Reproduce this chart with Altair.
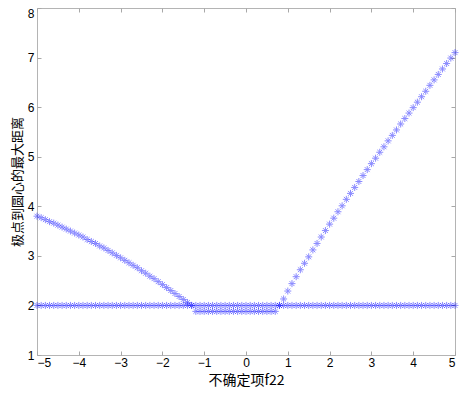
import altair as alt
import pandas as pd

# x grid of the sampled uncertain term f22
x_vals = [round(-5 + 0.1 * i, 1) for i in range(101)]

# series 1: flat at 2
series_flat = [2.0] * 101

# series 2
series_v = [
    3.80, 3.77, 3.73, 3.69, 3.66, 3.62, 3.58, 3.54, 3.50, 3.46,
    3.42, 3.38, 3.33, 3.29, 3.25, 3.20, 3.16, 3.11, 3.06, 3.01,
    2.96, 2.91, 2.86, 2.81, 2.76, 2.70, 2.65, 2.59, 2.54, 2.48,
    2.42, 2.36, 2.30, 2.24, 2.18, 2.12, 2.06, 2.00,
    1.88, 1.88, 1.88, 1.88, 1.88, 1.88, 1.88, 1.88, 1.88, 1.88,
    1.88, 1.88, 1.88, 1.88, 1.88, 1.88, 1.88, 1.88, 1.88, 1.88,
    2.00, 2.13, 2.29, 2.44, 2.58, 2.72, 2.85, 2.98, 3.12, 3.25,
    3.38, 3.51, 3.64, 3.76, 3.89, 4.01, 4.14, 4.26, 4.38, 4.50,
    4.62, 4.74, 4.86, 4.97, 5.09, 5.20, 5.32, 5.43, 5.54, 5.66,
    5.77, 5.88, 5.99, 6.10, 6.21, 6.32, 6.44, 6.55, 6.66, 6.77,
    6.88, 6.99, 7.10,
]

x_ticks = [-5, -4, -3, -2, -1, 0, 1, 2, 3, 4, 5]
y_ticks = [1, 2, 3, 4, 5, 6, 7, 8]

x_title = "不确定项f22"
y_title = "极点到圆心的最大距离"

df = pd.DataFrame({
    "x": x_vals + x_vals,
    "y": series_flat + series_v,
    "s": ["flat"] * len(x_vals) + ["v"] * len(x_vals),
})

asterisk = "M-1,0L1,0M0,-1L0,1M-0.7,-0.7L0.7,0.7M-0.7,0.7L0.7,-0.7"

xscale = alt.Scale(domain=[-5, 5], nice=False, zero=False)
yscale = alt.Scale(domain=[1, 8], nice=False, zero=False)

tick_col = "#a8a8a8"

base = alt.Chart(df)

pts = base.mark_point(
    shape=asterisk, size=49, filled=False, color="#0000ff",
    strokeWidth=1, opacity=0.45,
).encode(
    x=alt.X("x:Q", scale=xscale, axis=alt.Axis(
        values=x_ticks, title=x_title, grid=False, domain=False,
        tickColor=tick_col, tickSize=4, offset=-4, labelPadding=2,
        titlePadding=5, format="d",
    )),
    y=alt.Y("y:Q", scale=yscale, axis=alt.Axis(
        values=y_ticks, title=y_title, grid=False, domain=False,
        tickColor=tick_col, tickSize=4, offset=-4, labelPadding=3,
        titlePadding=3, titleFontSize=13, format="d",
        labelBaseline={"condition": {"test": "datum.value == 8", "value": "top"}, "value": "middle"},
    )),
    detail="s:N",
)

mirror = base.mark_point(opacity=0).encode(
    x=alt.X("x:Q", scale=xscale, axis=alt.Axis(
        orient="top", values=x_ticks, title="", labels=False, grid=False,
        domain=False, tickColor=tick_col, tickSize=4, offset=-4,
    )),
    y=alt.Y("y:Q", scale=yscale, axis=alt.Axis(
        orient="right", values=y_ticks, title="", labels=False, grid=False,
        domain=False, tickColor=tick_col, tickSize=4, offset=-4,
    )),
)

chart = alt.layer(pts, mirror).resolve_axis(
    x="independent", y="independent"
).properties(
    width=418, height=347,
    autosize=alt.AutoSizeParams(type="none"),
    padding={"left": 29, "top": 0, "right": 4, "bottom": 34},
    background="white",
).configure_view(
    stroke="#b4b4b4", strokeWidth=1,
).configure_axis(
    labelFont="Liberation Sans", labelFontSize=12, labelColor="#000000",
    titleFont="Noto Sans CJK SC", titleFontSize=14, titleFontWeight="normal",
    titleColor="#000000",
)

chart.save("out.html", embed_options={"renderer": "svg", "actions": False})
